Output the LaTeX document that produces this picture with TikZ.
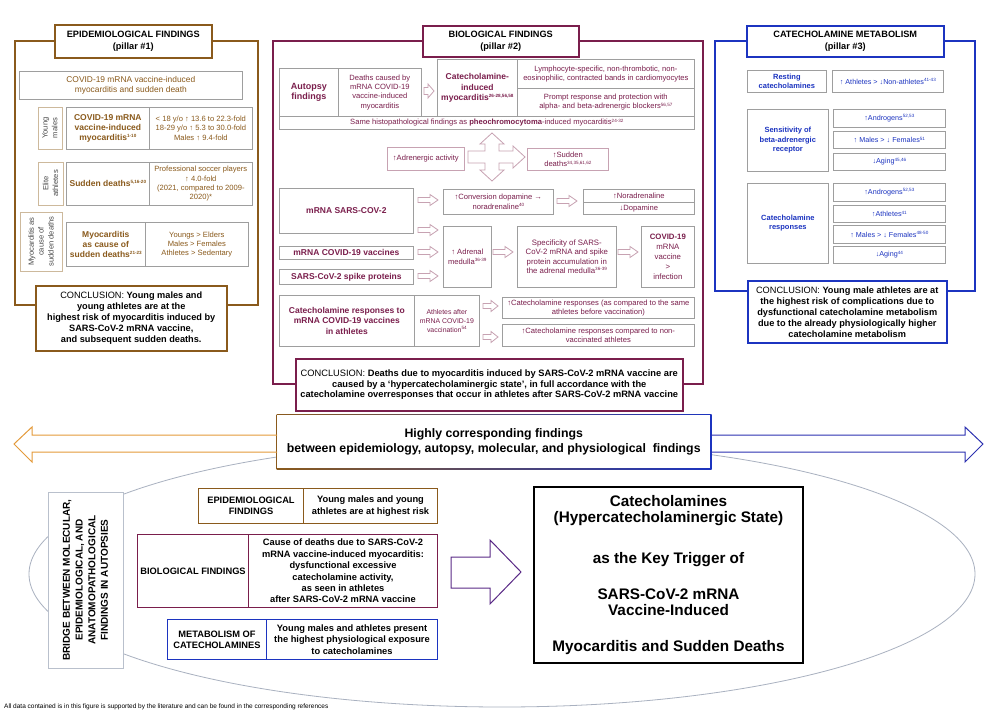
\documentclass[tikz,border=0pt]{standalone}
\usepackage{fontspec}
\setmainfont{Liberation Sans}
\usetikzlibrary{calc}

\definecolor{brn}{HTML}{8A5A1C}
\definecolor{mar}{HTML}{7A1E4C}
\definecolor{blu}{HTML}{1C34C0}
\definecolor{cellgray}{HTML}{9E9E9E}
\definecolor{pinkgray}{HTML}{C7A2B2}
\definecolor{lbltan}{HTML}{CDB99C}
\definecolor{lbltext}{HTML}{4A4A4A}
\definecolor{ellgray}{HTML}{A9B1C0}
\definecolor{bridgegray}{HTML}{B9C0CC}
\definecolor{orng}{HTML}{E49A3A}
\definecolor{purp}{HTML}{5A2A86}

\newcommand{\fsmall}{\fontsize{7.6}{9.3}\selectfont}
\newcommand{\fhead}{\fontsize{8.4}{9.4}\selectfont}
\newcommand{\fmidb}{\fontsize{8.5}{10.2}\selectfont\bfseries}
\newcommand{\fttl}{\fontsize{9.2}{12}\selectfont\bfseries}
\newcommand{\fcon}{\fontsize{9.2}{11}\selectfont}
\newcommand{\fbot}{\fontsize{9.3}{11.4}\selectfont\bfseries}
\newcommand{\ftiny}{\fontsize{7.2}{9.3}\selectfont}
\newcommand{\ftinyb}{\fontsize{7.5}{9.3}\selectfont\bfseries}
\newcommand{\flbl}{\fontsize{7.6}{9.8}\selectfont}
\newcommand{\srf}[1]{\raisebox{0.35em}{\fontsize{4.6}{5}\selectfont #1}}
% hollow block arrow: [style] x1 x2 y shaft head headlength
\newcommand{\blockarrow}[7][]{%
  \draw[#1] (#2,{#4-#5}) -- ({#3-#7},{#4-#5}) -- ({#3-#7},{#4-#6}) -- (#3,#4)
    -- ({#3-#7},{#4+#6}) -- ({#3-#7},{#4+#5}) -- (#2,{#4+#5}) -- cycle;}

\tikzset{
  wh/.style 2 args={minimum width=#1pt, minimum height=#2pt},
  nw/.style={anchor=north west},
  cell/.style={draw=cellgray, line width=0.7pt, fill=white, inner sep=0.5pt, align=center},
  pcell/.style={cell, draw=pinkgray, text=mar, font=\fsmall},
  bcell/.style={cell, text=blu},
  lbl/.style={draw=lbltan, line width=0.7pt, fill=white, rotate=90, align=center, inner sep=0.5pt, text=lbltext, font=\flbl},
  ttl/.style={fill=white, line width=1.5pt, align=center, inner sep=1pt, font=\fttl},
  concl/.style={fill=white, line width=1.5pt, align=center, inner sep=1pt, font=\fcon},
  botcell/.style={fill=white, line width=1pt, align=center, inner sep=0.5pt, font=\fbot},
  parrow/.style={draw=pinkgray, fill=white, line width=0.8pt}
}

\begin{document}
\begin{tikzpicture}[x=1pt,y=1pt,yscale=-1,xscale=1]
\path[use as bounding box, fill=white] (0,0) rectangle (986,712);

%Shape: Ellipse
\draw[ellgray, line width=0.8pt] (502,574) ellipse [x radius=473pt, y radius=133pt];

%%% pillar #1
\draw[brn, line width=1.3pt] (15,41) rectangle (258,305);
\node[ttl, draw=brn, wh={157}{33}, nw] (epititle) at (54,24) {EPIDEMIOLOGICAL FINDINGS\\(pillar \#1)};
\node[cell, wh={223}{28}, nw, text=brn, font=\fhead] (epihead) at (19,71) {COVID-19 mRNA vaccine-induced\\myocarditis and sudden death};
\node[lbl, wh={42}{24}] (youngm) at (50,128) {Young\\males};
\node[cell, wh={83}{42}, nw, text=brn, font=\fmidb] (youngA) at (66,107) {COVID-19 mRNA\\vaccine-induced\\myocarditis\srf{1-10}};
\node[cell, wh={103}{42}, nw, text=brn, font=\fsmall] (youngB) at (149,107) {< 18 y/o ↑ 13.6 to 22.3-fold\\18-29 y/o ↑ 5.3 to 30.0-fold\\Males ↑ 9.4-fold};
\node[lbl, wh={43}{25}] (elite) at (50.5,183.5) {Elite\\athletes};
\node[cell, wh={83}{43}, nw, text=brn, font=\fmidb] (eliteA) at (66,162) {Sudden deaths\srf{5,16-20}};
\node[cell, wh={103}{43}, nw, text=brn, font=\fsmall] (eliteB) at (149,162) {Professional soccer players\\↑ 4.0-fold\\(2021, compared to 2009-\\2020)*};
\node[lbl, wh={59}{42}] (myocause) at (41,241.5) {Myocarditis as\\cause of\\sudden deaths};
\node[cell, wh={79}{44}, nw, text=brn, font=\fmidb] (myoA) at (66,222) {Myocarditis\\as cause of\\sudden deaths\srf{21-23}};
\node[cell, wh={103}{44}, nw, text=brn, font=\fsmall] (myoB) at (145,222) {Youngs > Elders\\Males > Females\\Athletes > Sedentary};
\node[concl, draw=brn, wh={191}{65}, nw] (epiconcl) at (35,285) {CONCLUSION: \textbf{Young males and}\\\textbf{young athletes are at the}\\\textbf{highest risk of myocarditis induced by}\\\textbf{SARS-CoV-2 mRNA vaccine,}\\\textbf{and subsequent sudden deaths.}};

%%% pillar #2
\draw[mar, line width=1.3pt] (273,41) rectangle (703,384);
\node[ttl, draw=mar, wh={156}{31}, nw] (biotitle) at (422,25) {BIOLOGICAL FINDINGS\\(pillar \#2)};
\node[cell, wh={59}{48}, nw, text=mar, font=\fontsize{9}{10.7}\selectfont\bfseries] (autopsy) at (279,68) {Autopsy\\findings};
\node[cell, wh={83}{48}, nw, text=mar, font=\fsmall] (deaths) at (338,68) {Deaths caused by\\mRNA COVID-19\\vaccine-induced\\myocarditis};
\blockarrow[parrow]{424}{434}{91}{3.5}{7}{6}
\node[cell, wh={80}{57}, nw, text=mar, font=\fmidb] (catmyo) at (437,59) {Catecholamine-\\induced\\myocarditis\srf{26-28,56,58}};
\node[cell, wh={177}{29}, nw, text=mar, font=\fsmall] (lymph) at (517,59) {Lymphocyte-specific, non-thrombotic, non-\\eosinophilic, contracted bands in cardiomyocytes};
\node[cell, wh={177}{28}, nw, text=mar, font=\fsmall] (prompt) at (517,88) {Prompt response and protection with\\alpha- and beta-adrenergic blockers\srf{56,57}};
\node[cell, wh={415}{13}, nw, text=mar, font=\fsmall] (histo) at (279,116) {Same histopathological findings as \textbf{pheochromocytoma}-induced myocarditis\srf{24-32}};
\node[pcell, wh={77}{23}, nw] (adren) at (387,147) {↑Adrenergic activity};
\node[pcell, wh={81}{22}, nw] (sudden) at (527,148) {↑Sudden\\deaths\srf{34,35,61,62}};
%Shape: Cross arrow
\draw[parrow] (468,151) -- (485,151) -- (485,144) -- (480,144) -- (492,133) -- (504,144) -- (499,144) -- (499,151) -- (513,151) -- (513,146) -- (525,157) -- (513,168) -- (513,163) -- (499,163) -- (499,170) -- (504,170) -- (492,181) -- (480,170) -- (485,170) -- (485,163) -- (468,163) -- cycle;
\node[cell, wh={134}{45}, nw, text=mar, font=\fmidb] (mrnasc) at (279,188) {mRNA SARS-COV-2};
\blockarrow[parrow]{418}{438}{200}{2.5}{5.5}{8}
\node[cell, wh={110}{25}, nw, text=mar, font=\fsmall] (conv) at (443,189) {↑Conversion dopamine →\\noradrenaline\srf{40}};
\blockarrow[parrow]{557}{577}{201}{2.5}{5.5}{8}
\node[cell, wh={111}{13}, nw, text=mar, font=\fsmall] (noradr) at (583,189) {↑Noradrenaline};
\node[cell, wh={111}{12}, nw, text=mar, font=\fsmall] (dopam) at (583,202) {↓Dopamine};
\blockarrow[parrow]{418}{438}{230}{2.5}{5.5}{8}
\node[cell, wh={134}{13}, nw, text=mar, font=\fmidb] (mrnavac) at (279,246) {mRNA COVID-19 vaccines};
\blockarrow[parrow]{418}{438}{252}{2.5}{5.5}{8}
\node[cell, wh={134}{15}, nw, text=mar, font=\fmidb] (spike) at (279,269) {SARS-CoV-2 spike proteins};
\blockarrow[parrow]{418}{438}{276}{2.5}{5.5}{8}
\node[cell, wh={48}{61}, nw, text=mar, font=\fsmall] (adrmed) at (443,226) {↑ Adrenal\\medulla\srf{36-39}};
\blockarrow[parrow]{493}{513}{252}{2.5}{5.5}{8}
\node[cell, wh={99}{61}, nw, text=mar, font=\fontsize{7.8}{9.3}\selectfont] (specif) at (517,226) {Specificity of SARS-\\CoV-2 mRNA and spike\\protein accumulation in\\the adrenal medulla\srf{36-39}};
\blockarrow[parrow]{618}{638}{252}{2.5}{5.5}{8}
\node[cell, wh={53}{61}, nw, text=mar, font=\fontsize{7.8}{10}\selectfont] (vacinf) at (641,226) {\textbf{COVID-19}\\mRNA\\vaccine\\>\\infection};
\node[cell, wh={135}{51}, nw, text=mar, font=\fmidb] (catresp) at (279,295) {Catecholamine responses to\\mRNA COVID-19 vaccines\\in athletes};
\node[cell, wh={65}{51}, nw, text=mar, font=\fontsize{6.9}{9}\selectfont] (athafter) at (414,295) {Athletes after\\mRNA COVID-19\\vaccination\srf{54}};
\blockarrow[parrow]{483}{498}{306}{2.5}{5.5}{7}
\blockarrow[parrow]{483}{498}{337}{2.5}{5.5}{7}
\node[cell, wh={192}{21}, nw, text=mar, font=\fsmall] (moreA) at (502,297) {↑Catecholamine responses (as compared to the same\\athletes before vaccination)};
\node[cell, wh={192}{22}, nw, text=mar, font=\fsmall] (moreB) at (502,324) {↑Catecholamine responses compared to non-\\vaccinated athletes};
\node[concl, draw=mar, wh={387}{52}, nw, font=\fontsize{9.3}{10.3}\selectfont] (bioconcl) at (295,358) {CONCLUSION: \textbf{Deaths due to myocarditis induced by SARS-CoV-2 mRNA vaccine are}\\\textbf{caused by a ‘hypercatecholaminergic state’, in full accordance with the}\\\textbf{catecholamine overresponses that occur in athletes after SARS-CoV-2 mRNA vaccine}};

%%% pillar #3
\draw[blu, line width=1.3pt] (715,41) rectangle (975,291);
\node[ttl, draw=blu, wh={197}{31}, nw] (mettitle) at (746,25) {CATECHOLAMINE METABOLISM\\(pillar \#3)};
\node[bcell, wh={79}{22}, nw, font=\ftinyb] (resting) at (747,70) {Resting\\catecholamines};
\node[bcell, wh={111}{22}, nw, font=\ftiny] (restval) at (832,70) {↑ Athletes > ↓Non-athletes\srf{41-43}};
\node[bcell, wh={81}{62}, nw, font=\ftinyb] (sensit) at (747,109) {Sensitivity of\\beta-adrenergic\\receptor};
\node[bcell, wh={112}{18}, nw, font=\ftiny] (sensA) at (833,109) {↑Androgens\srf{52,53}};
\node[bcell, wh={112}{17}, nw, font=\ftiny] (sensB) at (833,131) {↑ Males > ↓ Females\srf{51}};
\node[bcell, wh={112}{17}, nw, font=\ftiny] (sensC) at (833,153) {↓Aging\srf{45,46}};
\node[bcell, wh={81}{80}, nw, font=\ftinyb] (catr) at (747,183) {Catecholamine\\responses};
\node[bcell, wh={112}{18}, nw, font=\ftiny] (catrA) at (833,183) {↑Androgens\srf{52,53}};
\node[bcell, wh={112}{17}, nw, font=\ftiny] (catrB) at (833,205) {↑Athletes\srf{41}};
\node[bcell, wh={112}{18}, nw, font=\ftiny] (catrC) at (833,225) {↑ Males > ↓ Females\srf{48-50}};
\node[bcell, wh={112}{17}, nw, font=\ftiny] (catrD) at (833,246) {↓Aging\srf{44}};
\node[concl, draw=blu, wh={199}{62}, nw] (metconcl) at (747,280) {CONCLUSION: \textbf{Young male athletes are at}\\\textbf{the highest risk of complications due to}\\\textbf{dysfunctional catecholamine metabolism}\\\textbf{due to the already physiologically higher}\\\textbf{catecholamine metabolism}};

%%% banner
\shade[left color=brn, middle color=mar, right color=blu] (276.5,414.5) rectangle (711.5,469.5);
\node[fill=white, wh={433}{53}, nw, align=center, inner sep=0pt, font=\fontsize{12.3}{15}\selectfont\bfseries] (corresp) at (277,415) {Highly corresponding findings\\between epidemiology, autopsy, molecular, and physiological\ \ findings};
%Straight Lines
\draw[orng, line width=1pt] (corresp.west |- 0,435) -- (32,435) -- (32,427) -- (14,444) -- (32,462) -- (32,452) -- (corresp.west |- 0,452);
\draw[blu!75!purp, line width=1pt] (corresp.east |- 0,435) -- (965,435) -- (965,427) -- (983,444) -- (965,462) -- (965,452) -- (corresp.east |- 0,452);

%%% bridge
\node[draw=bridgegray, fill=white, line width=0.8pt, rotate=90, wh={176}{75}, align=center, inner sep=0.5pt, font=\fontsize{10}{12.7}\selectfont\bfseries] (bridge) at (85.5,580) {BRIDGE BETWEEN MOLECULAR,\\EPIDEMIOLOGICAL, AND\\ANATOMOPATHOLOGICAL\\FINDINGS IN AUTOPSIES};
\node[botcell, draw=brn, wh={105}{35}, nw] (epibot) at (198,488) {EPIDEMIOLOGICAL\\FINDINGS};
\node[botcell, draw=brn, wh={134}{35}, nw] (epibotval) at (303,488) {Young males and young\\athletes are at highest risk};
\node[botcell, draw=mar, wh={111}{73}, nw] (biobot) at (137,534) {BIOLOGICAL FINDINGS};
\node[botcell, draw=mar, wh={189}{73}, nw] (biobotval) at (248,534) {Cause of deaths due to SARS-CoV-2\\mRNA vaccine-induced myocarditis:\\dysfunctional excessive\\catecholamine activity,\\as seen in athletes\\after SARS-CoV-2 mRNA vaccine};
\node[botcell, draw=blu, wh={99}{40}, nw] (metbot) at (167,619) {METABOLISM OF\\CATECHOLAMINES};
\node[botcell, draw=blu, wh={171}{40}, nw] (metbotval) at (266,619) {Young males and athletes present\\the highest physiological exposure\\to catecholamines};
%Shape: Arrow
\draw[purp, line width=1pt, fill=white] (451,557) -- (490,557) -- (490,540) -- (521,572) -- (490,604) -- (490,588) -- (451,588) -- cycle;
\node[draw=black, line width=2pt, fill=white, wh={269}{176}, nw, align=center, font=\fontsize{15.3}{16}\selectfont\bfseries] (keybox) at (533,486) {Catecholamines\\(Hypercatecholaminergic State)\\[25pt]as the Key Trigger of\\[20pt]SARS-CoV-2 mRNA\\Vaccine-Induced\\[20pt]Myocarditis and Sudden Deaths};

\node[anchor=west, inner sep=0pt, font=\fontsize{6.5}{8}\selectfont] (footnote) at (4,707) {All data contained is in this figure is supported by the literature and can be found in the corresponding references};
\end{tikzpicture}
\end{document}
